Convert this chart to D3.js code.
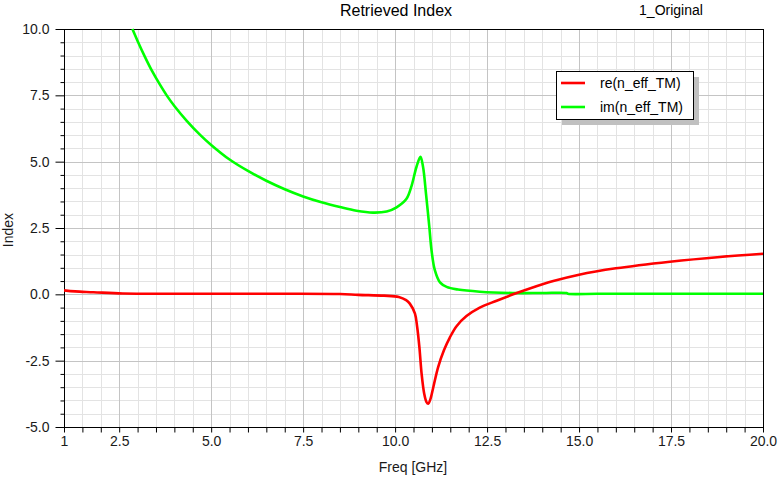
<!DOCTYPE html>
<html>
<head>
<meta charset="utf-8">
<script src="https://cdn.jsdelivr.net/npm/d3@7"></script>
<style>
	body { margin:0; background:#ffffff; }
	svg { display:block; font-family:"Liberation Sans", Arial, sans-serif; }
</style>
</head>
<body>
<svg id="chart" width="780" height="480"></svg>
<script>

// --------------------------------
// data
// --------------------------------

var reFreq = [1.0, 1.3, 1.8, 2.6, 4.0, 5.5, 7.0, 8.5, 9.0, 9.7, 10.1, 10.3, 10.4, 10.54, 10.6, 10.66, 10.72, 10.79, 10.85, 10.9, 10.96, 11.04, 11.17, 11.33, 11.49, 11.67, 11.94, 12.3, 12.76, 13.21, 13.66, 14.3, 15.0, 16.0, 17.47, 18.83, 20.0];
var reVal  = [0.15, 0.11, 0.08, 0.03, 0.02, 0.02, 0.02, 0.01, -0.02, -0.05, -0.10, -0.22, -0.35, -0.73, -1.23, -1.99, -2.99, -3.74, -4.05, -4.12, -3.95, -3.49, -2.74, -2.10, -1.62, -1.20, -0.82, -0.50, -0.24, 0.0, 0.22, 0.50, 0.74, 0.98, 1.23, 1.41, 1.53];

var imFreq = [2.86, 3.0, 3.2, 3.4, 3.6, 3.8, 4.0, 4.33, 4.7, 5.0, 5.5, 6.0, 6.5, 7.0, 7.5, 8.0, 8.5, 8.95, 9.4, 9.77, 10.04, 10.31, 10.45, 10.58, 10.69, 10.76, 10.84, 10.93, 10.99, 11.08, 11.22, 11.4, 11.71, 12.3, 13.2, 14.0, 14.66, 14.7, 15.5, 16.5, 17.5, 18.5, 20.0];
var imVal  = [10.0, 9.55, 8.95, 8.40, 7.92, 7.48, 7.10, 6.55, 6.01, 5.63, 5.08, 4.65, 4.28, 3.96, 3.69, 3.47, 3.29, 3.15, 3.08, 3.12, 3.28, 3.6, 4.1, 4.8, 5.18, 4.8, 3.79, 2.54, 1.66, 0.91, 0.45, 0.28, 0.18, 0.10, 0.05, 0.05, 0.05, 0.02, 0.02, 0.02, 0.02, 0.02, 0.02];

var xTicks = [1, 2.5, 5, 7.5, 10, 12.5, 15, 17.5, 20];
var xTickLabels = ["1", "2.5", "5.0", "7.5", "10.0", "12.5", "15.0", "17.5", "20.0"];
var yTicks = [-5, -2.5, 0, 2.5, 5, 7.5, 10];
var yTickLabels = ["-5.0", "-2.5", "0.0", "2.5", "5.0", "7.5", "10.0"];

var seriesNames  = ["re(n_eff_TM)", "im(n_eff_TM)"];
var seriesColors = ["#ff0000", "#00ff00"];

var szTitle = "Retrieved Index";
var szSubTitle = "1_Original";
var szXLabel = "Freq [GHz]";
var szYLabel = "Index";

// --------------------------------
// layout
// --------------------------------

var pLeft = 64, pTop = 29, pRight = 763, pBottom = 427;

var svg = d3.select("#chart");

var x = d3.scaleLinear().domain([1, 20]).range([pLeft, pRight]);
var y = d3.scaleLinear().domain([-5, 10]).range([pBottom, pTop]);

// minor grid every 0.5 (both axes), major grid every 2.5
var isMajor = function(d){ return Math.abs(d/2.5 - Math.round(d/2.5)) < 1e-6; };
var xMinor = d3.range(1.5, 20, 0.5).filter(function(d){ return !isMajor(d); });
var yMinor = d3.range(-4.5, 10, 0.5).filter(function(d){ return !isMajor(d); });
var xMajor = [2.5, 5, 7.5, 10, 12.5, 15, 17.5];
var yMajor = [-2.5, 0, 2.5, 5, 7.5];

var grid = svg.append("g");

grid.selectAll(".xmin").data(xMinor).enter().append("line")
	.attr("x1", function(d){ return Math.round(x(d))+0.5; })
	.attr("x2", function(d){ return Math.round(x(d))+0.5; })
	.attr("y1", pTop).attr("y2", pBottom)
	.attr("style", "stroke:#e3e3e3;stroke-width:1");
grid.selectAll(".ymin").data(yMinor).enter().append("line")
	.attr("y1", function(d){ return Math.round(y(d))+0.5; })
	.attr("y2", function(d){ return Math.round(y(d))+0.5; })
	.attr("x1", pLeft).attr("x2", pRight)
	.attr("style", "stroke:#e3e3e3;stroke-width:1");
grid.selectAll(".xmaj").data(xMajor).enter().append("line")
	.attr("x1", function(d){ return Math.round(x(d))+0.5; })
	.attr("x2", function(d){ return Math.round(x(d))+0.5; })
	.attr("y1", pTop).attr("y2", pBottom)
	.attr("style", "stroke:#c4c4c4;stroke-width:1");
grid.selectAll(".ymaj").data(yMajor).enter().append("line")
	.attr("y1", function(d){ return Math.round(y(d))+0.5; })
	.attr("y2", function(d){ return Math.round(y(d))+0.5; })
	.attr("x1", pLeft).attr("x2", pRight)
	.attr("style", "stroke:#c4c4c4;stroke-width:1");

// --------------------------------
// axes
// --------------------------------

var xAxis = d3.axisBottom(x)
	.tickValues(xTicks.concat(xMinor))
	.tickSize(5)
	.tickFormat(function(d){ var i = xTicks.indexOf(d); return i >= 0 ? xTickLabels[i] : ""; });

var gx = svg.append("g")
	.attr("transform", "translate(0," + (pBottom+0.5) + ")")
	.call(xAxis);
gx.select(".domain").remove();
gx.selectAll("line").attr("stroke", "#000");
gx.selectAll("text")
	.attr("y", 9)
	.attr("style", "font-size:14px;fill:#1a1a1a;font-family:'Liberation Sans',Arial,sans-serif");

var yAxis = d3.axisLeft(y)
	.tickValues(yTicks)
	.tickSize(9)
	.tickPadding(6)
	.tickFormat(function(d){ return yTickLabels[yTicks.indexOf(d)]; });

var gy = svg.append("g")
	.attr("transform", "translate(" + (pLeft+0.5) + ",0)")
	.call(yAxis);
gy.select(".domain").remove();
gy.selectAll("line").attr("stroke", "#000");
gy.selectAll("text")
	.attr("style", "font-size:14px;fill:#1a1a1a;font-family:'Liberation Sans',Arial,sans-serif");

var gyMinor = svg.append("g")
	.attr("transform", "translate(" + (pLeft+0.5) + ",0)")
	.call(d3.axisLeft(y).tickValues(yMinor).tickSize(4).tickFormat(""));
gyMinor.select(".domain").remove();
gyMinor.selectAll("line").attr("stroke", "#000");

// plot frame
svg.append("rect")
	.attr("x", pLeft+0.5).attr("y", pTop+0.5)
	.attr("width", pRight-pLeft).attr("height", pBottom-pTop)
	.attr("style", "fill:none;stroke:#000000;stroke-width:1");

// --------------------------------
// curves
// --------------------------------

svg.append("clipPath").attr("id", "plotClip")
	.append("rect")
	.attr("x", pLeft).attr("y", pTop-1)
	.attr("width", pRight-pLeft).attr("height", pBottom-pTop+1);

var line = d3.line()
	.x(function(d){ return x(d[0]); })
	.y(function(d){ return y(d[1]); })
	.curve(d3.curveCatmullRom.alpha(0.5));

var reData = d3.zip(reFreq, reVal);
var imData = d3.zip(imFreq, imVal);

var curves = svg.append("g").attr("clip-path", "url(#plotClip)");
curves.append("path")
	.attr("d", line(imData))
	.attr("style", "fill:none;stroke:" + seriesColors[1] + ";stroke-width:2.6;stroke-linejoin:round");
curves.append("path")
	.attr("d", line(reData))
	.attr("style", "fill:none;stroke:" + seriesColors[0] + ";stroke-width:2.6;stroke-linejoin:round");

// --------------------------------
// titles
// --------------------------------

svg.append("text")
	.attr("x", 396).attr("y", 16)
	.attr("style", "font-size:16px;text-anchor:middle;fill:#000000")
	.text(szTitle);
svg.append("text")
	.attr("x", 671).attr("y", 15)
	.attr("style", "font-size:14px;text-anchor:middle;fill:#000000")
	.text(szSubTitle);
svg.append("text")
	.attr("x", 413).attr("y", 472)
	.attr("style", "font-size:14px;text-anchor:middle;fill:#1a1a1a")
	.text(szXLabel);
svg.append("text")
	.attr("transform", "translate(13,230) rotate(-90)")
	.attr("style", "font-size:14px;text-anchor:middle;fill:#1a1a1a")
	.text(szYLabel);

// --------------------------------
// legend with drop shadow
// --------------------------------

var lx = 556, ly = 71, lw = 137, lh = 48;
var legend = svg.append("g");
legend.append("rect")
	.attr("x", lx+6).attr("y", ly+6).attr("width", lw).attr("height", lh)
	.attr("style", "fill:#c0c0c0;stroke:none");
legend.append("rect")
	.attr("x", lx+0.5).attr("y", ly+0.5).attr("width", lw).attr("height", lh)
	.attr("style", "fill:#ffffff;stroke:#000000;stroke-width:1");

seriesNames.forEach(function(name, i){
	var yy = ly + 12 + i*24;
	legend.append("line")
		.attr("x1", lx+5).attr("x2", lx+29)
		.attr("y1", yy).attr("y2", yy)
		.attr("style", "stroke:" + seriesColors[i] + ";stroke-width:2.6");
	legend.append("text")
		.attr("x", lx+44).attr("y", yy+5)
		.attr("style", "font-size:14px;fill:#000000")
		.text(name);
});

</script>
</body>
</html>
